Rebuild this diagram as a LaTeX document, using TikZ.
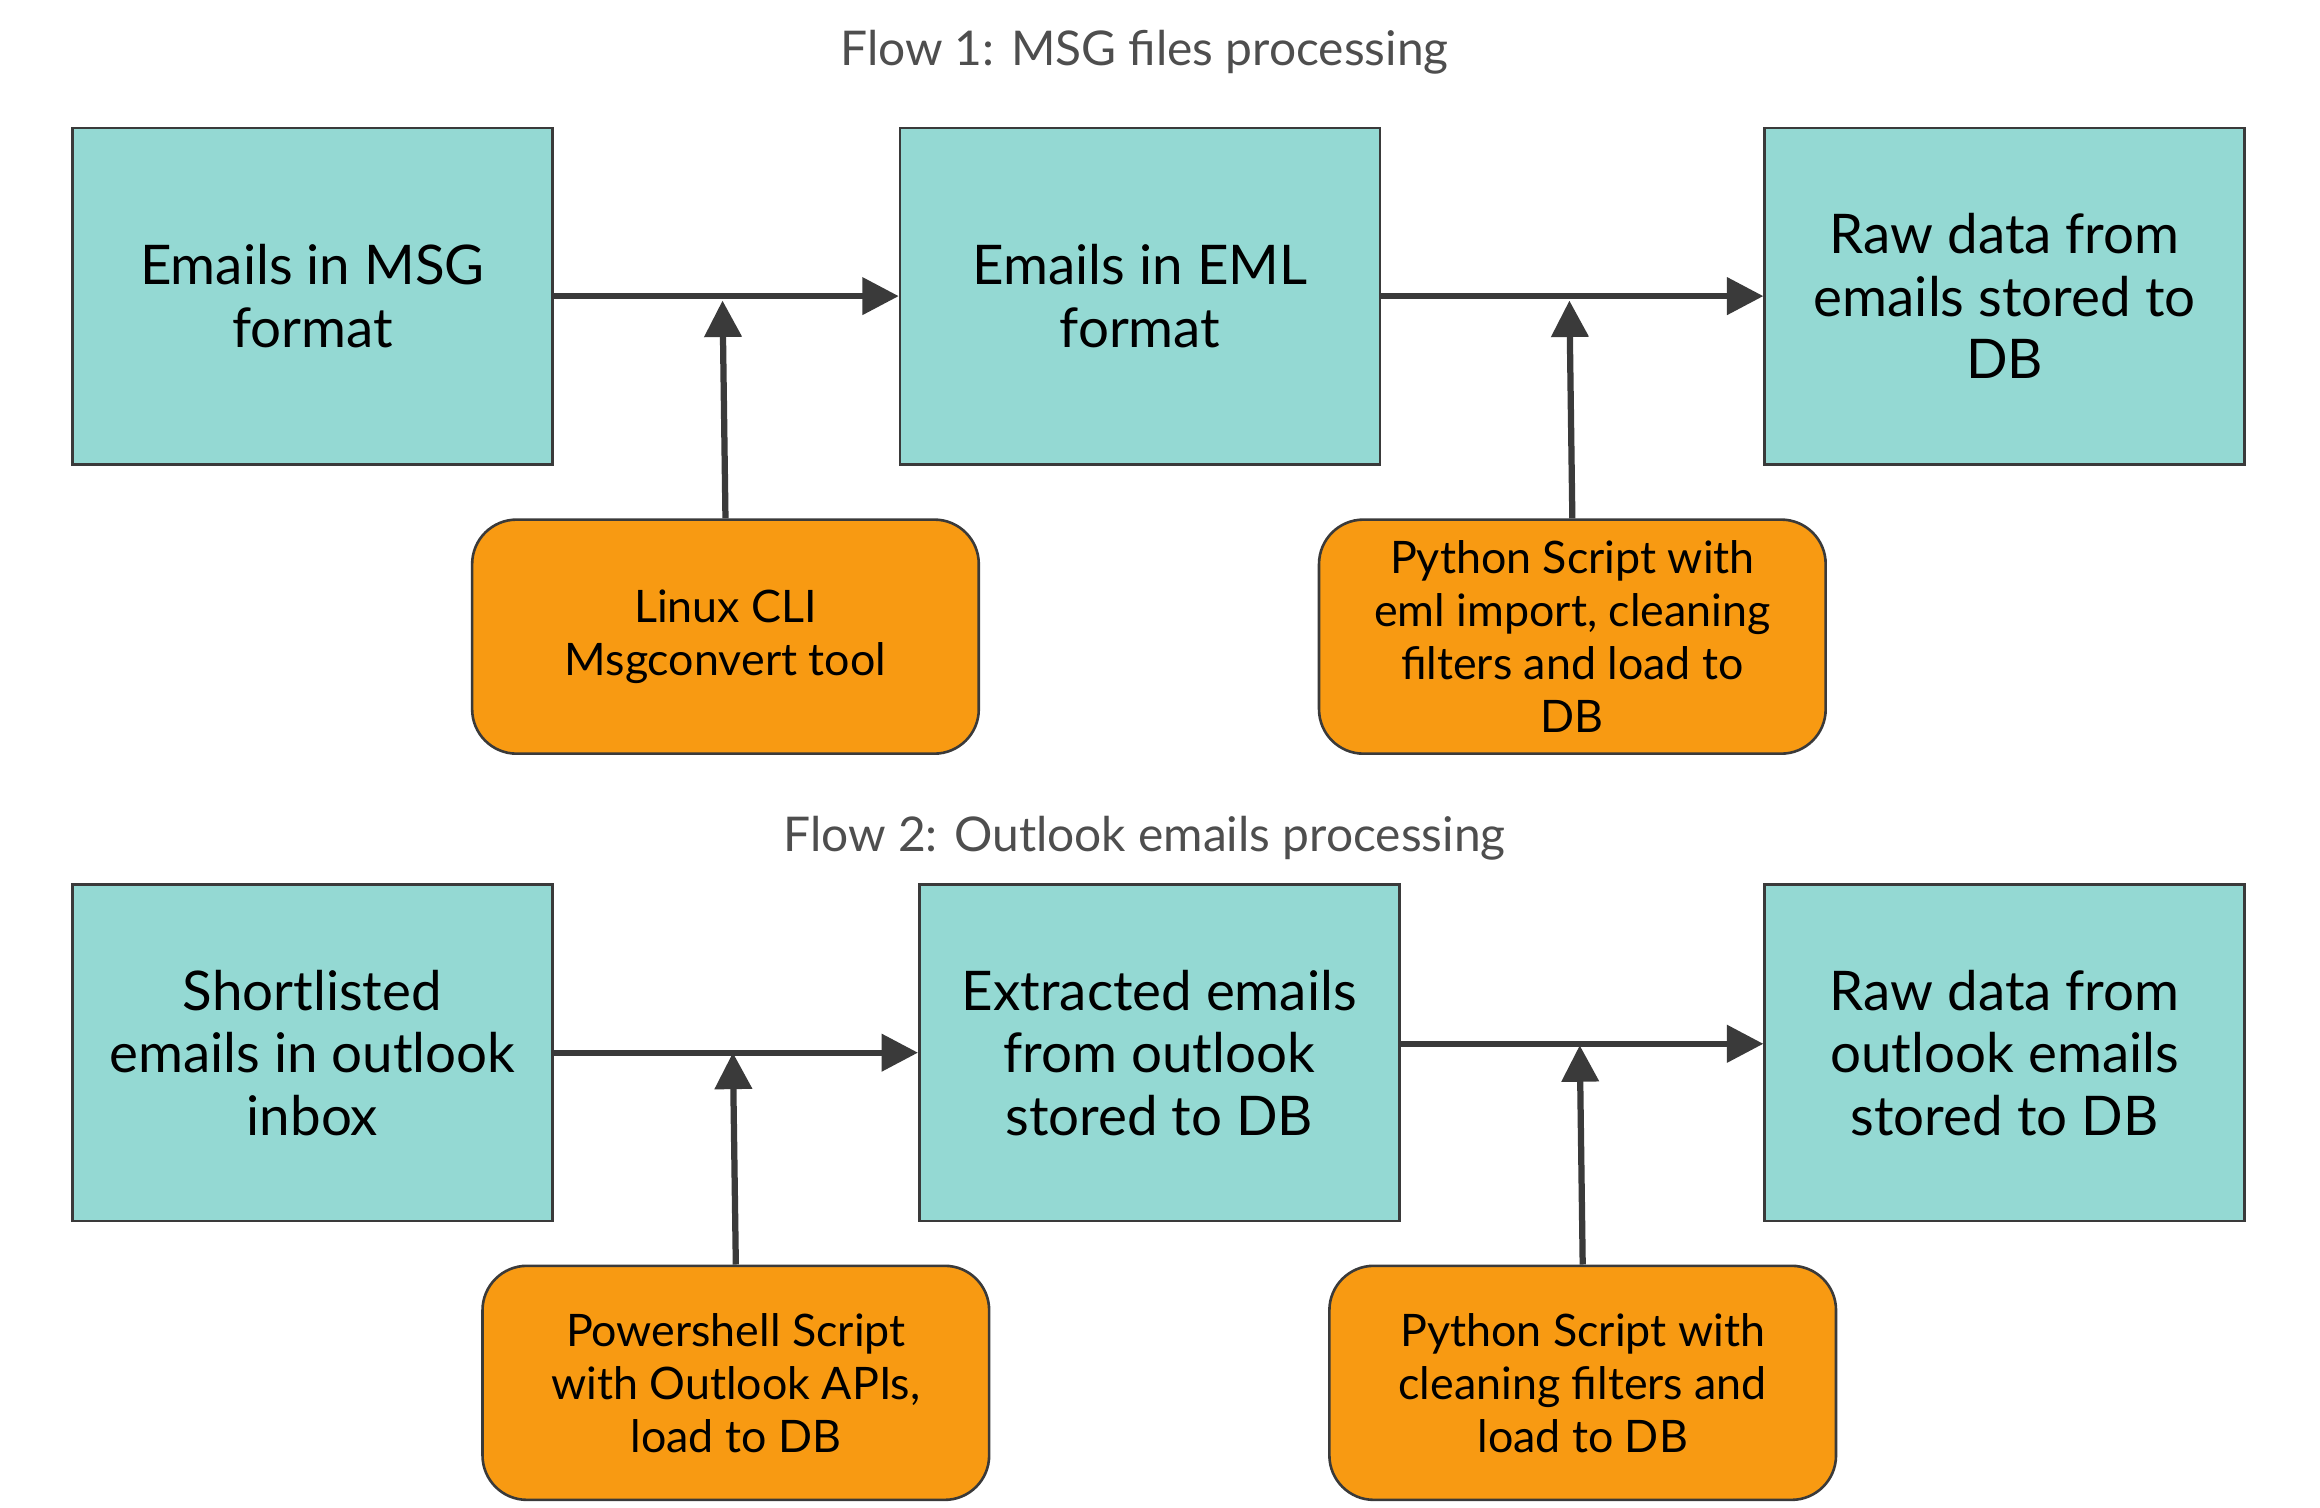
\documentclass[tikz,border=0pt]{standalone}
\usepackage{fontspec}
\setmainfont{Lato}
\usetikzlibrary{arrows.meta}
\definecolor{teal}{HTML}{94D9D3}
\definecolor{orng}{HTML}{F89A12}
\definecolor{edge}{HTML}{3A3A3A}
\begin{document}
\begin{tikzpicture}[x=0.01cm,y=-0.01cm,
  box/.style={draw=edge,line width=0.5pt,fill=teal,minimum width=3.24cm,minimum height=2.27cm,align=center,font=\fontsize{10.5}{12}\selectfont,inner sep=0pt},
  tool/.style={draw=edge,line width=0.5pt,fill=orng,rounded corners=0.3cm,minimum width=3.42cm,minimum height=1.58cm,align=center,font=\fontsize{8.6}{10.2}\selectfont,inner sep=0pt},
  ttl/.style={font=\fontsize{9.2}{11}\selectfont,text=edge!90},
  arr/.style={draw=edge,line width=1.2pt,-{Triangle[length=7pt,width=7pt]}}]
\useasboundingbox (0,0) rectangle (1567,1018);
\node[ttl] (t1) at (773,35) {Flow 1: MSG files processing};
\node[ttl] (t2) at (773,566) {Flow 2: Outlook emails processing};
\node[box] (a1) at (211,200) {Emails in MSG\\format};
\node[box] (b1) at (770,200) {Emails in EML\\format};
\node[box] (c1) at (1354,200) {Raw data from\\emails stored to\\DB};
\node[tool] (l1) at (490,430) {Linux CLI\\Msgconvert tool};
\node[tool] (r1) at (1062,430) {Python Script with\\eml import, cleaning\\filters and load to\\DB};
\node[box] (a2) at (211,711) {Shortlisted\\emails in outlook\\inbox};
\node[box] (b2) at (783,711) {Extracted emails\\from outlook\\stored to DB};
\node[box] (c2) at (1354,711) {Raw data from\\outlook emails\\stored to DB};
\node[tool] (l2) at (497,934) {Powershell Script\\with Outlook APIs,\\load to DB};
\node[tool] (r2) at (1069,934) {Python Script with\\cleaning filters and\\load to DB};
\coordinate (p1) at (488,203);
\coordinate (p2) at (1060,203);
\coordinate (p3) at (495,711);
\coordinate (p4) at (1067,706);
\draw[arr] (a1.east) -- (b1.west);
\draw[arr] (b1.east) -- (c1.west);
\draw[arr] (l1.north) -- (p1);
\draw[arr] (r1.north) -- (p2);
\draw[arr] (a2.east) -- (b2.west);
\draw[arr] (b2.east |- 0,705) -- (c2.west |- 0,705);
\draw[arr] (l2.north) -- (p3);
\draw[arr] (r2.north) -- (p4);
\end{tikzpicture}
\end{document}
